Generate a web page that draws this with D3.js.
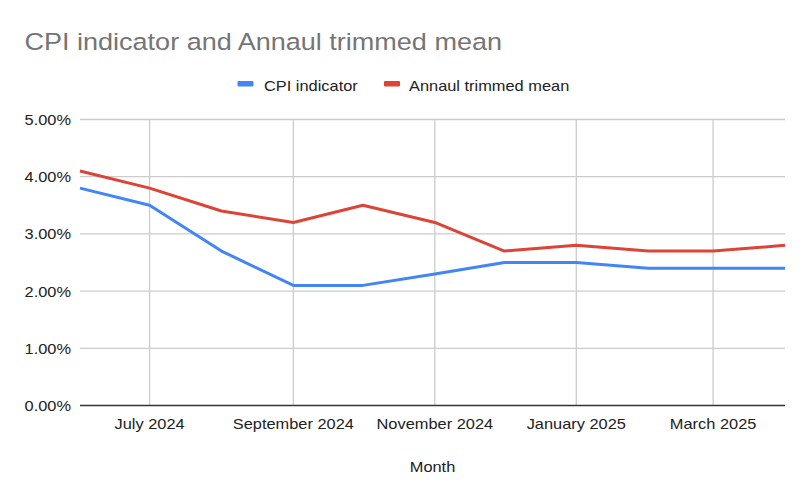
<!DOCTYPE html>
<html><head><meta charset="utf-8">
<script src="https://cdn.jsdelivr.net/npm/d3@7"></script>
<style>body{margin:0;background:#fff}svg{display:block}text{font-family:"Liberation Sans",Arial,sans-serif}</style>
</head><body><svg id="c" width="810" height="501"></svg>
<script>
const months = ["2024-06-01","2024-07-01","2024-08-01","2024-09-01","2024-10-01","2024-11-01","2024-12-01","2025-01-01","2025-02-01","2025-03-01","2025-04-01"];
const cpiIndicator = [3.8,3.5,2.7,2.1,2.1,2.3,2.5,2.5,2.4,2.4,2.4];
const trimmedMean = [4.1,3.8,3.4,3.2,3.5,3.2,2.7,2.8,2.7,2.7,2.8];
const yTicks = [0,1,2,3,4,5];
const xTickMonths = ["2024-07-01","2024-09-01","2024-11-01","2025-01-01","2025-03-01"];
const seriesNames = ["CPI indicator","Annaul trimmed mean"];
const colors = ["#4285F4","#DB4437"];

const parse = d3.timeParse("%Y-%m-%d");
const dates = months.map(parse);
const svg = d3.select("#c");
const L=80,R=785,T=119.5,B=405.5;
const x = d3.scaleTime().domain([dates[0], dates[dates.length-1]]).range([L,R]);
const y = d3.scaleLinear().domain([0,5]).range([B,T]);
const SX = 1.13;

function txt(g, px, py, s, size, fill, anchor, sx){
  return g.append("text").attr("transform",`translate(${px},${py}) scale(${sx||SX},1)`)
    .attr("font-size",size).attr("fill",fill).attr("text-anchor",anchor||"start").text(s);
}

txt(svg, 24.5, 50, "CPI indicator and Annaul trimmed mean", 23.5, "#757575", "start", 1.15);

// grid
svg.append("g").selectAll("line").data(yTicks.filter(d=>d>0)).join("line")
  .attr("x1",L).attr("x2",R).attr("y1",d=>y(d)).attr("y2",d=>y(d)).attr("stroke","#cccccc").attr("stroke-width",1.3);
svg.append("g").selectAll("line").data(xTickMonths.map(parse)).join("line")
  .attr("x1",d=>x(d)).attr("x2",d=>x(d)).attr("y1",T).attr("y2",B).attr("stroke","#cccccc").attr("stroke-width",1.3);

// y labels
const gy = svg.append("g");
yTicks.forEach(d=>txt(gy, 71, y(d)+5.5, d3.format(".2f")(d)+"%", 14.5, "#222", "end"));
// x labels
const fmt = d3.timeFormat("%B %Y");
const gx = svg.append("g");
xTickMonths.map(parse).forEach(d=>txt(gx, x(d), 429, fmt(d), 14.5, "#222", "middle"));

txt(svg, 432.5, 471.5, "Month", 14.5, "#222", "middle");

// lines
const line = d3.line().x((d,i)=>x(dates[i])).y(d=>y(d));
[cpiIndicator, trimmedMean].forEach((s,k)=>{
  svg.append("path").attr("d",line(s)).attr("fill","none").attr("stroke",colors[k]).attr("stroke-width",3).attr("stroke-linejoin","round");
});

// baseline
svg.append("line").attr("x1",L).attr("x2",R).attr("y1",B).attr("y2",B).attr("stroke","#333").attr("stroke-width",1.3);

// legend
const leg = [{x:237.5,tx:264},{x:384,tx:409}];
seriesNames.forEach((n,k)=>{
  svg.append("rect").attr("x",leg[k].x).attr("y",81).attr("width",16).attr("height",5.5).attr("rx",1).attr("fill",colors[k]);
  txt(svg, leg[k].tx, 90.5, n, 14.5, "#222", "start");
});
</script></body></html>
